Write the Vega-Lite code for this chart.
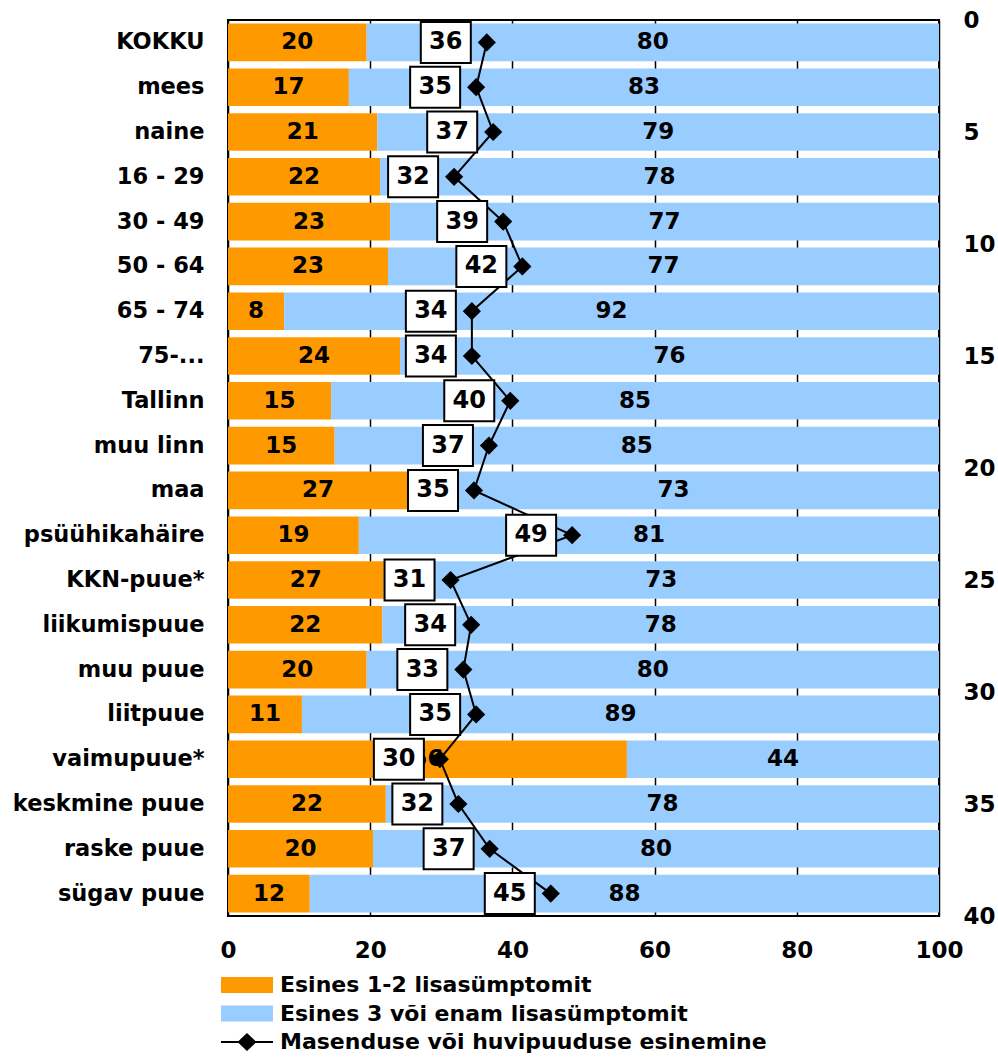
{
  "$schema": "https://vega.github.io/schema/vega-lite/v6.json",
  "width": 711,
  "height": 896,
  "autosize": {"type": "none"},
  "padding": {"left": 228, "top": 20, "right": 59, "bottom": 146},
  "background": "white",
  "config": {
    "font": "DejaVu Sans",
    "view": {"stroke": "black", "strokeWidth": 2}
  },
  "datasets": {
    "bars": [
      {"k": "KOKKU", "s": "Esines 1-2 lisasümptomit", "v": 19.5, "t": 20},
      {"k": "KOKKU", "s": "Esines 3 või enam lisasümptomit", "v": 80.5, "t": 80},
      {"k": "mees", "s": "Esines 1-2 lisasümptomit", "v": 17.0, "t": 17},
      {"k": "mees", "s": "Esines 3 või enam lisasümptomit", "v": 83.0, "t": 83},
      {"k": "naine", "s": "Esines 1-2 lisasümptomit", "v": 21.0, "t": 21},
      {"k": "naine", "s": "Esines 3 või enam lisasümptomit", "v": 79.0, "t": 79},
      {"k": "16 - 29", "s": "Esines 1-2 lisasümptomit", "v": 21.4, "t": 22},
      {"k": "16 - 29", "s": "Esines 3 või enam lisasümptomit", "v": 78.6, "t": 78},
      {"k": "30 - 49", "s": "Esines 1-2 lisasümptomit", "v": 22.8, "t": 23},
      {"k": "30 - 49", "s": "Esines 3 või enam lisasümptomit", "v": 77.2, "t": 77},
      {"k": "50 - 64", "s": "Esines 1-2 lisasümptomit", "v": 22.5, "t": 23},
      {"k": "50 - 64", "s": "Esines 3 või enam lisasümptomit", "v": 77.5, "t": 77},
      {"k": "65 - 74", "s": "Esines 1-2 lisasümptomit", "v": 7.9, "t": 8},
      {"k": "65 - 74", "s": "Esines 3 või enam lisasümptomit", "v": 92.1, "t": 92},
      {"k": "75-...", "s": "Esines 1-2 lisasümptomit", "v": 24.2, "t": 24},
      {"k": "75-...", "s": "Esines 3 või enam lisasümptomit", "v": 75.8, "t": 76},
      {"k": "Tallinn", "s": "Esines 1-2 lisasümptomit", "v": 14.5, "t": 15},
      {"k": "Tallinn", "s": "Esines 3 või enam lisasümptomit", "v": 85.5, "t": 85},
      {"k": "muu linn", "s": "Esines 1-2 lisasümptomit", "v": 15.0, "t": 15},
      {"k": "muu linn", "s": "Esines 3 või enam lisasümptomit", "v": 85.0, "t": 85},
      {"k": "maa", "s": "Esines 1-2 lisasümptomit", "v": 25.3, "t": 27},
      {"k": "maa", "s": "Esines 3 või enam lisasümptomit", "v": 74.7, "t": 73},
      {"k": "psüühikahäire", "s": "Esines 1-2 lisasümptomit", "v": 18.4, "t": 19},
      {"k": "psüühikahäire", "s": "Esines 3 või enam lisasümptomit", "v": 81.6, "t": 81},
      {"k": "KKN-puue*", "s": "Esines 1-2 lisasümptomit", "v": 21.9, "t": 27},
      {"k": "KKN-puue*", "s": "Esines 3 või enam lisasümptomit", "v": 78.1, "t": 73},
      {"k": "liikumispuue", "s": "Esines 1-2 lisasümptomit", "v": 21.7, "t": 22},
      {"k": "liikumispuue", "s": "Esines 3 või enam lisasümptomit", "v": 78.3, "t": 78},
      {"k": "muu puue", "s": "Esines 1-2 lisasümptomit", "v": 19.5, "t": 20},
      {"k": "muu puue", "s": "Esines 3 või enam lisasümptomit", "v": 80.5, "t": 80},
      {"k": "liitpuue", "s": "Esines 1-2 lisasümptomit", "v": 10.4, "t": 11},
      {"k": "liitpuue", "s": "Esines 3 või enam lisasümptomit", "v": 89.6, "t": 89},
      {"k": "vaimupuue*", "s": "Esines 1-2 lisasümptomit", "v": 56.1, "t": 56},
      {"k": "vaimupuue*", "s": "Esines 3 või enam lisasümptomit", "v": 43.9, "t": 44},
      {"k": "keskmine puue", "s": "Esines 1-2 lisasümptomit", "v": 22.2, "t": 22},
      {"k": "keskmine puue", "s": "Esines 3 või enam lisasümptomit", "v": 77.8, "t": 78},
      {"k": "raske puue", "s": "Esines 1-2 lisasümptomit", "v": 20.4, "t": 20},
      {"k": "raske puue", "s": "Esines 3 või enam lisasümptomit", "v": 79.6, "t": 80},
      {"k": "sügav puue", "s": "Esines 1-2 lisasümptomit", "v": 11.5, "t": 12},
      {"k": "sügav puue", "s": "Esines 3 või enam lisasümptomit", "v": 88.5, "t": 88}
    ],
    "line": [
      {"i": 1, "k": "KOKKU", "m": 36.4, "ml": 36},
      {"i": 2, "k": "mees", "m": 34.9, "ml": 35},
      {"i": 3, "k": "naine", "m": 37.3, "ml": 37},
      {"i": 4, "k": "16 - 29", "m": 31.8, "ml": 32},
      {"i": 5, "k": "30 - 49", "m": 38.7, "ml": 39},
      {"i": 6, "k": "50 - 64", "m": 41.4, "ml": 42},
      {"i": 7, "k": "65 - 74", "m": 34.3, "ml": 34},
      {"i": 8, "k": "75-...", "m": 34.3, "ml": 34},
      {"i": 9, "k": "Tallinn", "m": 39.7, "ml": 40},
      {"i": 10, "k": "muu linn", "m": 36.7, "ml": 37},
      {"i": 11, "k": "maa", "m": 34.6, "ml": 35},
      {"i": 12, "k": "psüühikahäire", "m": 48.4, "ml": 49},
      {"i": 13, "k": "KKN-puue*", "m": 31.3, "ml": 31},
      {"i": 14, "k": "liikumispuue", "m": 34.2, "ml": 34},
      {"i": 15, "k": "muu puue", "m": 33.1, "ml": 33},
      {"i": 16, "k": "liitpuue", "m": 34.9, "ml": 35},
      {"i": 17, "k": "vaimupuue*", "m": 29.8, "ml": 30},
      {"i": 18, "k": "keskmine puue", "m": 32.4, "ml": 32},
      {"i": 19, "k": "raske puue", "m": 36.8, "ml": 37},
      {"i": 20, "k": "sügav puue", "m": 45.4, "ml": 45}
    ],
    "rax": [{"r": 0}, {"r": 40}]
  },
  "layer": [
    {
      "encoding": {
        "y": {
          "field": "k", "type": "nominal", "sort": null,
          "scale": {"paddingInner": 0.16, "paddingOuter": 0.08},
          "axis": {"title": null, "ticks": false, "domain": false, "grid": false, "labelPadding": 24, "labelFontSize": 22.5, "labelFontWeight": "bold", "labelColor": "black", "labelLimit": 400}
        }
      },
      "layer": [
        {
          "data": {"name": "bars"},
          "mark": {"type": "bar"},
          "encoding": {
            "x": {
              "field": "v", "type": "quantitative", "stack": "zero",
              "scale": {"domain": [0, 100], "nice": false},
              "axis": {"title": null, "values": [0, 20, 40, 60, 80, 100], "ticks": false, "domain": false, "grid": true, "gridColor": "black", "gridWidth": 1.5, "gridOpacity": 1, "labelPadding": 23, "labelFontSize": 23, "labelFontWeight": "bold", "labelColor": "black", "labelFlush": false}
            },
            "order": {"field": "s", "type": "ordinal"},
            "color": {
              "field": "s", "type": "nominal",
              "scale": {"domain": ["Esines 1-2 lisasümptomit", "Esines 3 või enam lisasümptomit", "Masenduse või huvipuuduse esinemine"], "range": ["#FF9900", "#99CCFF", "#000000"]},
              "legend": {
                "title": null, "orient": "none", "legendX": 2.5, "legendY": 948.5, "direction": "vertical",
                "symbolType": "M-1.576,-0.485H1.576V0.485H-1.576Z", "symbolSize": 1089, "symbolStrokeWidth": 0,
                "labelFontSize": 22, "labelFontWeight": "bold", "labelColor": "black", "labelOffset": 16.5, "labelLimit": 700,
                "rowPadding": 0.5, "padding": 0,
                "encode": {"symbols": {"update": {"shape": {"signal": "datum.value === 'Masenduse või huvipuuduse esinemine' ? 'M-1.576,-0.06H1.576V0.06H-1.576Z M0,-0.545L0.576,0L0,0.545L-0.576,0Z' : 'M-1.576,-0.485H1.576V0.485H-1.576Z'"}}}}
              }
            }
          }
        },
        {
          "data": {"name": "bars"},
          "mark": {"type": "text", "fontSize": 23, "fontWeight": "bold", "color": "black", "baseline": "middle"},
          "encoding": {
            "x": {"field": "v", "type": "quantitative", "stack": "zero", "bandPosition": 0.5},
            "detail": {"field": "s"},
            "order": {"field": "s", "type": "ordinal"},
            "text": {"field": "t"}
          }
        },
        {
          "data": {"name": "line"},
          "mark": {"type": "line", "color": "black", "strokeWidth": 2},
          "encoding": {
            "x": {"field": "m", "type": "quantitative"},
            "order": {"field": "i", "type": "quantitative"}
          }
        },
        {
          "data": {"name": "line"},
          "mark": {"type": "point", "shape": "diamond", "filled": true, "color": "black", "size": 330, "opacity": 1},
          "encoding": {"x": {"field": "m", "type": "quantitative"}}
        },
        {
          "data": {"name": "line"},
          "mark": {"type": "point", "shape": "M-1,-0.82H1V0.82H-1Z", "filled": true, "fill": "white", "stroke": "black", "strokeWidth": 2, "size": 2500, "xOffset": -41, "opacity": 1},
          "encoding": {"x": {"field": "m", "type": "quantitative"}}
        },
        {
          "data": {"name": "line"},
          "mark": {"type": "text", "dx": -41, "fontSize": 24, "fontWeight": "bold", "color": "black", "baseline": "middle"},
          "encoding": {
            "x": {"field": "m", "type": "quantitative"},
            "text": {"field": "ml"}
          }
        }
      ]
    },
    {
      "data": {"name": "rax"},
      "mark": {"type": "point", "opacity": 0},
      "encoding": {
        "y": {
          "field": "r", "type": "quantitative",
          "scale": {"domain": [0, 40], "reverse": true, "nice": false, "zero": false},
          "axis": {"orient": "right", "title": null, "values": [0, 5, 10, 15, 20, 25, 30, 35, 40], "ticks": false, "domain": false, "grid": false, "labelPadding": 24, "labelFontSize": 23, "labelFontWeight": "bold", "labelColor": "black", "labelFlush": false, "labelAlign": "left"}
        }
      }
    }
  ],
  "resolve": {"scale": {"y": "independent"}, "axis": {"y": "independent"}}
}
